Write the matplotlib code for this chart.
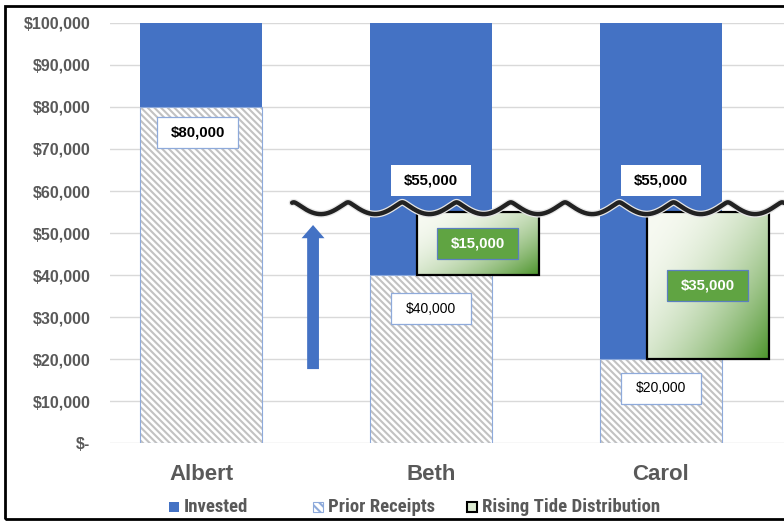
import numpy as np
import matplotlib.pyplot as plt
from matplotlib.patches import Rectangle, FancyArrowPatch
import matplotlib.patheffects as pe

# data
names = ['Albert', 'Beth', 'Carol']
prior_receipts = [80000, 40000, 20000]
invested = [20000, 60000, 80000]
rising_tide = [0, 15000, 35000]
water_level = 55000
y_ticks = [0, 10000, 20000, 30000, 40000, 50000, 60000, 70000, 80000, 90000, 100000]

blue = '#4472C4'
gray_text = '#595959'
green = '#60a442'

plt.rcParams['font.family'] = ['Liberation Sans', 'DejaVu Sans']
plt.rcParams['hatch.linewidth'] = 1.5

fig = plt.figure(figsize=(7.84, 5.22), dpi=100)
ax = fig.add_axes([110 / 784, 79 / 522, 674 / 784, 420 / 522])

x = np.arange(len(names))
w = 0.53
shift = 0.204  # rising tide box offset

# stacked bars
ax.bar(x, prior_receipts, w, color='white', edgecolor='#c2c2c2', hatch='\\' * 5,
       linewidth=0, zorder=2)
ax.bar(x, prior_receipts, w, fill=False, edgecolor='#8eaadb', linewidth=0.8, zorder=3)
ax.bar(x, invested, w, bottom=prior_receipts, color=blue, linewidth=0, zorder=2)


def gradient(n=120):
    u = np.linspace(0, 1, n)
    U, V = np.meshgrid(u, u)
    t = np.clip(0.55 * U + 0.45 * V, 0, 1) ** 2.0
    c0 = np.array([0.97, 0.98, 0.95])
    c1 = np.array([0.30, 0.58, 0.17])
    return c0 + (c1 - c0) * t[..., None]


# rising tide boxes
for i, r in enumerate(rising_tide):
    if r <= 0:
        continue
    x0 = x[i] + shift - w / 2
    y0 = prior_receipts[i]
    ax.imshow(gradient(), extent=[x0, x0 + w, y0, y0 + r], aspect='auto',
              origin='upper', zorder=4)
    ax.add_patch(Rectangle((x0, y0), w, r, fill=False, ec='black', lw=1.6, zorder=5))

# wave at the water level
xs = np.linspace(0.396, 2.6, 2000)
period = 0.236
phase = (xs - 0.403) / period
s = np.sqrt(np.sin(np.pi * phase) ** 2 + 0.015)
s = (s - s.min()) / (s.max() - s.min())
ys = water_level - 500 + 2800 * (1 - s)
ax.plot(xs, ys, color='#222222', lw=3.2, zorder=6, solid_capstyle='round',
        path_effects=[pe.Stroke(linewidth=5, foreground='#e6e6e6'), pe.Normal()])

# arrow
ax.add_patch(FancyArrowPatch((0.487, 17600), (0.487, 51900),
                             arrowstyle='simple,head_width=16.5,head_length=9.5,tail_width=8.5',
                             mutation_scale=1, color=blue, lw=0, shrinkA=0, shrinkB=0, zorder=4))

bw, bh = 0.352, 7400


def label(cx, cy, txt, fc, ec, tc, weight, size, z=8):
    if ec is None:
        ax.add_patch(Rectangle((cx - bw / 2, cy - bh / 2), bw, bh, fc=fc, lw=0, zorder=z))
    else:
        ax.add_patch(Rectangle((cx - bw / 2, cy - bh / 2), bw, bh, fc=fc, ec=ec, lw=0.9, zorder=z))
    ax.text(cx, cy, txt, ha='center', va='center', color=tc, fontweight=weight,
            fontsize=size, zorder=z + 1)


prior_label_y = [74000, 32000, 13000]
for i, p in enumerate(prior_receipts):
    if i == 0:
        label(x[i] - 0.015, prior_label_y[i], f'${p:,}', 'white', '#8eaadb', 'black', 'bold', 10.8)
    else:
        label(x[i], prior_label_y[i], f'${p:,}', 'white', '#8eaadb', 'black', 'normal', 10)

for i, r in enumerate(rising_tide):
    if r <= 0:
        continue
    label(x[i], 62400, f'${prior_receipts[i] + r:,}', 'white', None, 'black', 'bold', 10.8)
    label(x[i] + shift, prior_receipts[i] + r / 2, f'${r:,}', green, '#5b7fc0', 'white', 'bold', 10.8)

ax.set_xlim(-0.396, 2.535)
ax.set_ylim(0, 100000)
ax.set_yticks(y_ticks)
ax.set_yticklabels(['$-' if v == 0 else f'${v:,}' for v in y_ticks], fontweight='bold')
ax.tick_params(axis='y', length=0, pad=14, labelsize=11.5, labelcolor=gray_text)
ax.set_xticks(x)
ax.set_xticklabels(names, fontweight='bold')
ax.tick_params(axis='x', length=0, pad=15, labelsize=16, labelcolor=gray_text)
ax.yaxis.grid(True, color='#d9d9d9', lw=1)
ax.set_axisbelow(True)
for sp in ax.spines.values():
    sp.set_visible(False)

# legend (manual)
leg_font = ['Roboto Condensed', 'DejaVu Sans Condensed', 'Liberation Sans Narrow', 'Liberation Sans']
ly = 507
items = [(169, 'Invested'), (313, 'Prior Receipts'), (467, 'Rising Tide Distribution')]
for k, (px, txt) in enumerate(items):
    rx, ry = px / 784, 1 - (ly + 5) / 522
    if k == 0:
        sw = Rectangle((rx, ry), 10 / 784, 10 / 522, fc=blue, lw=0, transform=fig.transFigure)
    elif k == 1:
        sw = Rectangle((rx, ry), 10 / 784, 10 / 522, fc='white', ec='#8eaadb', hatch='\\' * 4,
                       lw=0.8, transform=fig.transFigure)
    else:
        sw = Rectangle((rx, ry), 10 / 784, 10 / 522, fc='#dcebd2', ec='black', lw=1.5,
                       transform=fig.transFigure)
    fig.add_artist(sw)
    fig.text((px + 15) / 784, 1 - ly / 522, txt, ha='left', va='center', fontsize=13.5,
             fontweight='bold', color=gray_text, family=leg_font)

# outer border
fig.add_artist(Rectangle((5 / 784, 3 / 522), 1.0, 1 - 9 / 522, fill=False, lw=2,
                         ec='black', transform=fig.transFigure))

fig.savefig('out.png', dpi=100)
